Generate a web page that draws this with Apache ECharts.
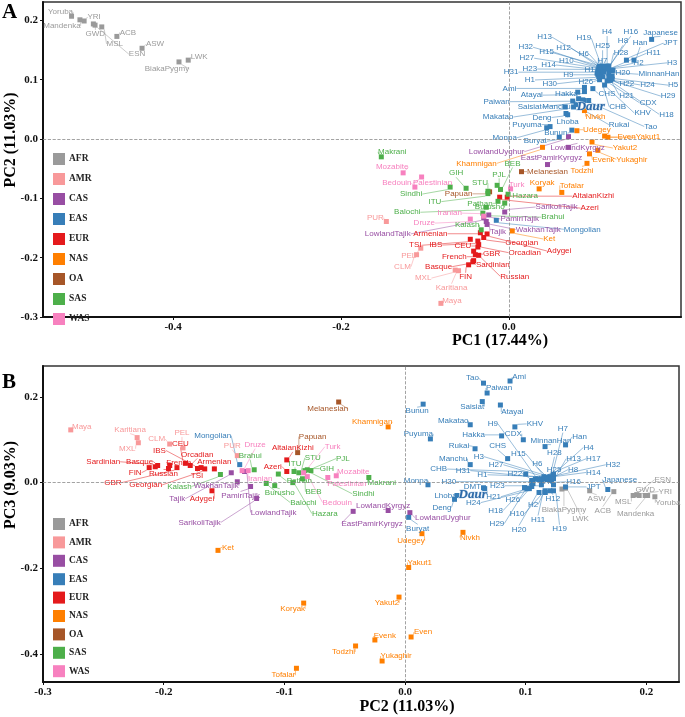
<!DOCTYPE html>
<html><head><meta charset="utf-8">
<script src="https://cdn.jsdelivr.net/npm/echarts@6.0.0/dist/echarts.min.js"></script>
<style>html,body{margin:0;padding:0;background:#fff}#c{width:685px;height:717px}</style>
</head><body><div id="c"></div>
<script>
// ---------- data ----------
const groupNames = ['AFR','AMR','CAS','EAS','EUR','NAS','OA','SAS','WAS'];
const groupColors = ['#9a9a9a','#f8999a','#984ea3','#377eb8','#e41a1c','#ff7f00','#a65628','#4daf4a','#f781bf'];

const popNames = [
 'Yoruba','Mandenka','YRI','GWD','ESN','MSL','ACB','ASW','BiakaPygmy','LWK',
 'PUR','PEL','CLM','MXL','Karitiana','Maya',
 'LowlandUyghur','EastPamirKyrgyz','LowlandKyrgyz','SarikoliTajik','PamiriTajik','WakhanTajik','LowlandTajik','Tajik',
 'Japanese','JPT','Han','MinnanHan','CDX','KHV','CHB','CHS','Hakka','Manchu','Tao','Ami','Paiwan','Saisiat','Atayal','Makatao','Bunun','Puyuma','Rukai','Mongolian','Buryat','Monpa','Lhoba','Deng','Daur','DMT',
 'H1','H2','H3','H4','H5','H6','H7','H8','H9','H10','H11','H12','H13','H14','H15','H16',
 'H17','H18','H19','H20','H21','H22','H23','H24','H25','H26','H27','H28','H29','H30','H31','H32',
 'CEU','TSI','IBS','GBR','French','Basque','Sardinian','FIN','Russian','Orcadian','Georgian','Adygei','Armenian','Azeri','AltaianKizhi',
 'Udegey','Even','Yakut1','Yakut2','Evenk','Yukaghir','Todzhi','Nivkh','Khamnigan','Koryak','Tofalar','Ket',
 'Melanesian','Papuan',
 'Makrani','Sindhi','GIH','STU','PJL','ITU','BEB','Pathan','Balochi','Kalash','Brahui','Burusho','Hazara',
 'Mozabite','Bedouin','Palestinian','Druze','Iranian','Turk'
];
const popGroups = [
 'AFR','AFR','AFR','AFR','AFR','AFR','AFR','AFR','AFR','AFR',
 'AMR','AMR','AMR','AMR','AMR','AMR',
 'CAS','CAS','CAS','CAS','CAS','CAS','CAS','CAS',
 'EAS','EAS','EAS','EAS','EAS','EAS','EAS','EAS','EAS','EAS','EAS','EAS','EAS','EAS','EAS','EAS','EAS','EAS','EAS','EAS','EAS','EAS','EAS','EAS','EAS','EAS',
 'EAS','EAS','EAS','EAS','EAS','EAS','EAS','EAS','EAS','EAS','EAS','EAS','EAS','EAS','EAS','EAS',
 'EAS','EAS','EAS','EAS','EAS','EAS','EAS','EAS','EAS','EAS','EAS','EAS','EAS','EAS','EAS','EAS',
 'EUR','EUR','EUR','EUR','EUR','EUR','EUR','EUR','EUR','EUR','EUR','EUR','EUR','EUR','EUR',
 'NAS','NAS','NAS','NAS','NAS','NAS','NAS','NAS','NAS','NAS','NAS','NAS',
 'OA','OA',
 'SAS','SAS','SAS','SAS','SAS','SAS','SAS','SAS','SAS','SAS','SAS','SAS','SAS',
 'WAS','WAS','WAS','WAS','WAS','WAS'
];
const pc1 = [
 -0.521,-0.511,-0.506,-0.495,-0.493,-0.485,-0.467,-0.437,-0.393,-0.382,
 -0.146,-0.105,-0.110,-0.064,-0.060,-0.081,
 0.071,0.046,0.071,-0.005,-0.024,-0.027,-0.030,-0.026,
 0.170,0.140,0.149,0.124,0.117,0.114,0.108,0.100,0.090,0.077,0.095,0.090,0.083,0.076,0.082,0.067,0.075,0.049,0.080,-0.015,0.060,0.045,0.070,0.068,0.088,0.089,
 0.106,0.121,0.123,0.117,0.123,0.112,0.115,0.118,0.110,0.110,0.120,0.108,0.108,0.108,0.108,0.119,
 0.113,0.121,0.112,0.119,0.120,0.119,0.106,0.121,0.114,0.112,0.106,0.118,0.123,0.107,0.105,0.107,
 -0.037,-0.046,-0.037,-0.042,-0.040,-0.042,-0.043,-0.048,-0.036,-0.036,-0.030,-0.026,-0.034,-0.011,-0.002,
 0.081,0.114,0.118,0.099,0.096,0.106,0.093,0.090,0.040,0.036,0.063,0.004,
 0.015,-0.023,
 -0.152,-0.070,-0.051,-0.025,-0.014,-0.025,-0.010,-0.013,-0.027,-0.033,-0.031,-0.005,-0.001,
 -0.126,-0.112,-0.104,-0.046,-0.030,0.002
];
const pc2 = [
 0.207,0.201,0.199,0.194,0.192,0.189,0.173,0.153,0.130,0.133,
 -0.139,-0.184,-0.195,-0.221,-0.222,-0.277,
 0.004,-0.043,-0.014,-0.123,-0.128,-0.139,-0.133,-0.144,
 0.168,0.133,0.133,0.116,0.098,0.091,0.100,0.085,0.080,0.054,0.065,0.087,0.068,0.064,0.079,0.054,0.015,0.021,0.058,-0.137,0.003,0.019,0.041,0.043,0.066,0.065,
 0.108,0.116,0.115,0.123,0.106,0.118,0.120,0.121,0.110,0.116,0.116,0.120,0.123,0.113,0.118,0.123,
 0.113,0.099,0.123,0.111,0.099,0.105,0.113,0.103,0.121,0.105,0.116,0.118,0.101,0.105,0.111,0.121,
 -0.182,-0.169,-0.172,-0.189,-0.195,-0.205,-0.207,-0.212,-0.196,-0.178,-0.166,-0.160,-0.158,-0.098,-0.098,
 0.014,0.005,0.003,-0.005,-0.025,-0.019,-0.041,0.048,-0.014,-0.084,-0.090,-0.155,
 -0.055,-0.089,
 -0.030,-0.081,-0.083,-0.088,-0.078,-0.092,-0.085,-0.105,-0.115,-0.153,-0.125,-0.108,-0.093,
 -0.057,-0.081,-0.064,-0.135,-0.130,-0.084
];
const pc3 = [
 -0.033,-0.030,-0.030,-0.030,-0.028,-0.030,-0.021,-0.019,-0.015,-0.013,
 0.063,0.081,0.090,0.093,0.105,0.123,
 -0.070,-0.067,-0.065,-0.037,-0.009,0.002,0.026,0.023,
 -0.016,-0.010,0.088,0.084,0.100,0.130,0.020,0.056,0.109,0.042,0.232,0.237,0.209,0.189,0.181,0.135,0.183,0.102,0.079,0.042,-0.081,-0.005,-0.039,-0.030,-0.014,-0.012,
 0.009,-0.023,0.014,0.019,-0.002,0.012,0.014,0.007,0.009,-0.019,-0.023,-0.019,0.009,0.005,0.007,-0.005,
 0.009,-0.012,-0.019,-0.023,-0.012,0.005,-0.005,-0.014,0.005,-0.009,0.009,0.009,-0.014,0.000,0.007,0.009,
 0.045,0.035,0.033,0.035,0.040,0.040,0.037,0.035,0.033,0.040,0.032,-0.019,0.032,0.026,0.053,
 -0.119,-0.360,-0.198,-0.267,-0.367,-0.416,-0.381,-0.116,0.130,-0.281,-0.433,-0.158,
 0.188,0.070,
 0.012,0.030,0.028,0.023,0.028,0.026,0.009,0.020,-0.002,0.019,0.030,-0.007,0.000,
 0.016,0.014,0.012,0.028,0.028,0.023
];
const xTicksA = [-0.4,-0.2,0.0];
const yTicksA = [-0.3,-0.2,-0.1,0.0,0.1,0.2];
const xTicksB = [-0.3,-0.2,-0.1,0.0,0.1,0.2];
const yTicksB = [-0.4,-0.2,0.0,0.2];

// ---------- label placement (pixel offsets of label centre from its point) ----------
const offA = {
 Yoruba:[-11,-4],Mandenka:[-18,6],YRI:[10,-4],GWD:[2,10],ESN:[42,29],MSL:[13,17],ACB:[11,-4],ASW:[13,-4],BiakaPygmy:[-12,7],LWK:[11,-3],
 PUR:[-11,-4],PEL:[-12,8],CLM:[-14,12],MXL:[-32,8],Karitiana:[-7,17],Maya:[11,-3],
 LowlandUyghur:[-72,15],EastPamirKyrgyz:[4,-7],LowlandKyrgyz:[9,0],SarikoliTajik:[52,-5],PamiriTajik:[31,4],WakhanTajik:[52,8],LowlandTajik:[-96,16],Tajik:[11,7],
 Japanese:[9,-7],JPT:[44,-17],Han:[6,-17],MinnanHan:[46,4],CDX:[41,22],KHV:[38,28],CHB:[18,27],CHS:[14,5],Hakka:[-18,2],Manchu:[-17,0],Tao:[62,26],Ami:[-75,1],Paiwan:[-82,3],Saisiat:[-43,6],Atayal:[-46,3],Makatao:[-67,10],Bunun:[-16,3],Puyuma:[-23,-2],Rukai:[43,20],Mongolian:[86,9],Buryat:[-24,4],Monpa:[-42,10],Lhoba:[0,7],Deng:[-24,4],Daur:[8,7],
 H1:[-68,5],H2:[28,-7],H3:[60,-8],H4:[0,-34],H5:[61,9],H6:[-19,-15],H7:[-3,-7],H8:[15,-26],H9:[-33,1],H10:[-35,-9],H11:[44,-17],H12:[-36,-20],H13:[-55,-29],H14:[-51,-7],H15:[-53,-17],H16:[22,-34],
 H17:[-12,-2],H18:[56,34],H19:[-19,-28],H20:[14,0],H21:[17,15],H22:[18,7],H23:[-68,-3],H24:[37,7],H25:[-2,-21],H26:[-17,5],H27:[-71,-12],H28:[13,-16],H29:[56,17],H30:[-49,7],H31:[-86,-1],H32:[-73,-20],
 CEU:[-15,-1],TSI:[-55,6],IBS:[-42,4],GBR:[18,3],French:[-21,2],Basque:[-35,6],Sardinian:[20,3],FIN:[-3,12],Russian:[36,21],Orcadian:[46,8],Georgian:[38,5],Adygei:[72,17],Armenian:[-50,1],Azeri:[90,11],AltaianKizhi:[86,-1],
 Udegey:[20,-1],Even:[22,1],Yakut1:[40,0],Yakut2:[33,6],Evenk:[14,6],Yukaghir:[34,9],Todzhi:[-5,7],Nivkh:[11,6],Khamnigan:[-66,16],Koryak:[3,-6],Tofalar:[10,-7],Ket:[37,8],
 Melanesian:[26,0],Papuan:[-31,2],
 Makrani:[11,-5],Sindhi:[-39,7],GIH:[-10,-15],STU:[-8,-8],PJL:[2,-11],ITU:[-53,8],BEB:[12,-26],Pathan:[-18,2],Balochi:[-79,5],Kalash:[-14,-5],Brahui:[70,4],Burusho:[-15,4],Hazara:[17,2],
 Mozabite:[-11,-6],Bedouin:[-18,-4],Palestinian:[11,6],Druze:[-46,4],Iranian:[-34,-3],Turk:[6,-4]
};
const offB = {
 Yoruba:[13,6],Mandenka:[-12,18],YRI:[20,-4],GWD:[6,-6],ESN:[26,-15],MSL:[-10,6],ACB:[-11,19],ASW:[7,8],BiakaPygmy:[2,21],LWK:[15,31],
 PUR:[-5,-10],PEL:[-1,-15],CLM:[-13,-5],MXL:[-11,6],Karitiana:[-7,-8],Maya:[11,-3],
 LowlandUyghur:[33,5],EastPamirKyrgyz:[19,12],LowlandKyrgyz:[-5,-5],SarikoliTajik:[-57,24],PamiriTajik:[-10,9],WakhanTajik:[-21,4],LowlandTajik:[29,41],Tajik:[-54,26],
 Japanese:[12,-10],JPT:[28,0],Han:[14,-8],MinnanHan:[6,-6],CDX:[-10,-6],KHV:[20,-3],CHB:[-87,-5],CHS:[-10,-13],Hakka:[-28,-1],Manchu:[-17,-6],Tao:[-11,-5],Ami:[9,-4],Paiwan:[12,-5],Saisiat:[-10,5],Atayal:[12,7],Makatao:[-17,-4],Bunun:[-6,7],Puyuma:[-12,-5],Rukai:[-16,-3],Mongolian:[-27,-29],Buryat:[9,11],Monpa:[-12,-4],Lhoba:[-9,-4],Deng:[-15,12],Daur:[-12,6],DMT:[-11,-1],
 H1:[-53,-4],H2:[-12,12],H3:[-65,-20],H4:[35,-27],H5:[16,-2],H6:[-10,-14],H7:[13,-48],H8:[22,-10],H9:[-45,-55],H10:[-28,23],H11:[-7,27],H12:[3,8],H13:[20,-20],H14:[52,-8],H15:[-29,-26],H16:[20,-3],
 H17:[52,-20],H18:[-29,23],H19:[6,38],H20:[-20,37],H21:[-31,9],H22:[-17,-7],H23:[-44,1],H24:[-56,14],H25:[3,-11],H26:[-19,13],H27:[-49,-14],H28:[7,-26],H29:[-30,35],H30:[-83,-1],H31:[-76,-9],H32:[62,-14],
 CEU:[-5,-20],TSI:[-4,8],IBS:[-38,-18],GBR:[-64,15],French:[9,-3],Basque:[-18,-4],Sardinian:[-52,-5],FIN:[-14,5],Russian:[-5,5],Orcadian:[7,-11],Georgian:[-59,16],Adygei:[-10,8],Armenian:[0,-7],Azeri:[-14,-5],AltaianKizhi:[6,-12],
 Udegey:[-11,7],Even:[12,-5],Yakut1:[11,-5],Yakut2:[-12,6],Evenk:[10,-4],Yukaghir:[14,-5],Todzhi:[-12,6],Nivkh:[7,5],Khamnigan:[-16,-5],Koryak:[-11,6],Tofalar:[-13,7],Ket:[10,-3],
 Melanesian:[-11,7],Papuan:[15,-16],
 Makrani:[13,5],Sindhi:[56,24],GIH:[22,-2],STU:[14,-15],PJL:[32,-12],ITU:[1,-8],BEB:[11,13],Pathan:[21,7],Balochi:[37,19],Kalash:[-41,12],Brahui:[-4,-14],Burusho:[5,7],Hazara:[32,31],
 Mozabite:[17,-4],Bedouin:[30,26],Palestinian:[19,6],Druze:[13,-26],Iranian:[12,8],Turk:[29,-26]
};
const hiddenInA = ['DMT'];
const highlighted = ['Daur'];

// ---------- build ----------
const serif = 'Liberation Serif, Times New Roman, serif';
const sans = 'Liberation Sans, Arial, sans-serif';
const fmt = v => (Math.abs(v) < 1e-9 ? 0 : v).toFixed(1);

function makeSeries(panel) {
  const out = [];
  groupNames.forEach((g, gi) => {
    const ids = [];
    popNames.forEach((n, i) => { if (popGroups[i] === g) ids.push(i); });
    const off = panel === 0 ? offA : offB;
    const color = groupColors[gi];
    const data = ids.map(i => {
      const item = { name: popNames[i], value: panel === 0 ? [pc1[i], pc2[i]] : [pc2[i], pc3[i]] };
      if (panel === 0 && hiddenInA.includes(popNames[i])) {
        item.label = { show: false }; item.labelLine = { show: false };
      }
      if (highlighted.includes(popNames[i])) {
        item.label = { fontFamily: serif, fontStyle: 'italic', fontWeight: 'bold', fontSize: 13,
                       color: '#2d6aa8', textBorderColor: '#c9dcef', textBorderWidth: 1 };
      }
      return item;
    });
    const s = {
      type: 'scatter', name: g, xAxisIndex: panel, yAxisIndex: panel,
      symbol: 'rect', symbolSize: 5, z: 3,
      itemStyle: { color: color, opacity: 1 },
      emphasis: { disabled: true },
      data: data,
      label: { show: true, position: 'inside', formatter: '{b}', color: color,
               fontSize: 8, fontFamily: sans },
      labelLine: { show: true, lineStyle: { width: 0.6, opacity: 0.85 } },
      labelLayout: function (p) {
        const o = off[popNames[ids[p.dataIndex]]] || [0, -8];
        return { dx: o[0], dy: o[1] };
      }
    };
    if (gi === 0) {
      s.markLine = { silent: true, symbol: 'none', animation: false,
        label: { show: false },
        lineStyle: { type: 'dashed', color: '#8c8c8c', width: 0.8 },
        data: [{ xAxis: 0 }, { yAxis: 0 }] };
    }
    out.push(s);
  });
  return out;
}

function axis(gridIndex, min, max, ticks) {
  return {
    type: 'value', gridIndex: gridIndex, min: min, max: max,
    axisLine: { show: true, onZero: false, lineStyle: { color: '#111', width: 2 } },
    axisTick: { show: true, customValues: ticks, length: 3, lineStyle: { color: '#111' } },
    axisLabel: { customValues: ticks, formatter: fmt, fontFamily: serif, fontWeight: 'bold',
                 fontSize: 11, color: '#111', margin: 5 },
    splitLine: { show: false }
  };
}

const legendBase = {
  orient: 'vertical', left: 48, icon: 'rect', itemWidth: 12, itemHeight: 12,
  selectedMode: false, data: groupNames,
  textStyle: { fontFamily: serif, fontWeight: 'bold', fontSize: 9.5, color: '#222', padding: [0, 0, 0, -1] }
};

const chart = echarts.init(document.getElementById('c'), null, { renderer: 'canvas' });
chart.setOption({
  animation: false,
  backgroundColor: '#fff',
  grid: [
    { left: 43, top: 2, width: 638, height: 315, show: true, borderColor: '#333', borderWidth: 1.5, backgroundColor: 'transparent' },
    { left: 43, top: 366, width: 636, height: 316, show: true, borderColor: '#333', borderWidth: 1.5, backgroundColor: 'transparent' }
  ],
  xAxis: [ axis(0, -0.555, 0.205, xTicksA), axis(1, -0.3, 0.227, xTicksB) ],
  yAxis: [ axis(0, -0.3, 0.231, yTicksA), axis(1, -0.465, 0.272, yTicksB) ],
  legend: [
    Object.assign({}, legendBase, { top: 148, itemGap: 8 }),
    Object.assign({}, legendBase, { top: 513, itemGap: 6.4 })
  ],
  graphic: [
    { type: 'text', x: 2, y: 2, style: { text: 'A', font: 'bold 21px ' + serif, fill: '#000' } },
    { type: 'text', x: 2, y: 372, style: { text: 'B', font: 'bold 21px ' + serif, fill: '#000' } },
    { type: 'text', x: 500, y: 341, style: { text: 'PC1 (17.44%)', font: 'bold 16px ' + serif, fill: '#000', textAlign: 'center', textVerticalAlign: 'middle' } },
    { type: 'text', x: 407, y: 707, style: { text: 'PC2 (11.03%)', font: 'bold 16px ' + serif, fill: '#000', textAlign: 'center', textVerticalAlign: 'middle' } },
    { type: 'text', x: 11, y: 140, rotation: Math.PI / 2, style: { text: 'PC2 (11.03%)', font: 'bold 16px ' + serif, fill: '#000', textAlign: 'center', textVerticalAlign: 'middle' } },
    { type: 'text', x: 11, y: 485, rotation: Math.PI / 2, style: { text: 'PC3 (9.03%)', font: 'bold 16px ' + serif, fill: '#000', textAlign: 'center', textVerticalAlign: 'middle' } }
  ],
  series: makeSeries(0).concat(makeSeries(1))
});
</script>
</body></html>
